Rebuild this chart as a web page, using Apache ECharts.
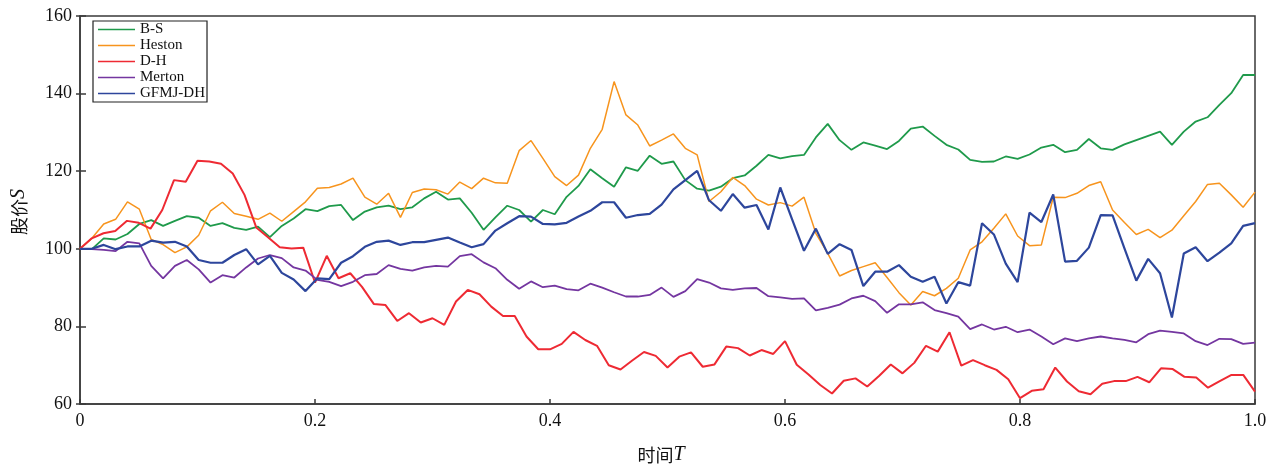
<!DOCTYPE html>
<html>
<head>
<meta charset="utf-8">
<script src="https://cdn.jsdelivr.net/npm/echarts@6/dist/echarts.min.js"></script>
<style>
  html, body { margin: 0; padding: 0; background: #fff; }
  #chart { width: 1278px; height: 469px; }
</style>
</head>
<body>
<div id="chart"></div>
<script>
// Simulated stock price paths S over time T for five models.
const seriesNames = ['B-S', 'Heston', 'D-H', 'Merton', 'GFMJ-DH'];
const xTickLabels = ['0', '0.2', '0.4', '0.6', '0.8', '1.0'];
const yTickLabels = ['60', '80', '100', '120', '140', '160'];

// B-S path (100 time points on [0, 1])
const bsValues = [
  100, 99.9, 102.7, 102.4, 103.8, 106.4, 107.4, 105.9, 107.2, 108.4,
  108.0, 105.9, 106.6, 105.4, 104.9, 105.7, 103.0, 105.9, 107.8, 110.2,
  109.7, 111.0, 111.3, 107.4, 109.6, 110.7, 111.1, 110.2, 110.7, 113.0,
  114.7, 112.7, 113.0, 109.3, 104.9, 108.1, 111.1, 110.0, 107.0, 110.0,
  108.9, 113.4, 116.2, 120.5, 118.2, 116.0, 121.0, 120.1, 124.0, 121.9,
  122.5, 117.7, 115.5, 115.0, 116.0, 118.2, 118.9, 121.4, 124.2, 123.3,
  123.9, 124.2, 128.7, 132.2, 128.0, 125.5, 127.4, 126.6, 125.7, 127.8,
  131.0, 131.5, 129.1, 126.8, 125.6, 122.9, 122.4, 122.5, 123.8, 123.2,
  124.3, 126.1, 126.8, 124.9, 125.5, 128.3, 125.9, 125.5, 126.9, 128.0,
  129.1, 130.2, 126.8, 130.2, 132.8, 133.9, 137.1, 140.1, 144.8, 144.8
];

// Heston path (100 time points)
const hestonValues = [
  100, 102.7, 106.4, 107.6, 112.1, 110.2, 102.4, 101.1, 99.0, 100.5,
  103.5, 109.8, 112.0, 109.1, 108.4, 107.6, 109.2, 107.1, 109.6, 112.1,
  115.6, 115.8, 116.7, 118.2, 113.3, 111.5, 114.3, 108.1, 114.5, 115.4,
  115.2, 114.1, 117.2, 115.5, 118.2, 117.0, 116.9, 125.3, 127.9, 123.3,
  118.6, 116.3, 119.0, 125.9, 130.8, 143.1, 134.5, 131.9, 126.5, 128.0,
  129.6, 125.9, 124.2, 112.2, 114.7, 118.4, 116.3, 112.8, 111.3, 111.9,
  111.0, 113.3, 104.0, 98.8, 93.0, 94.4, 95.4, 96.4, 92.6, 88.7,
  85.5, 89.0, 87.9, 89.8, 92.4, 99.7, 101.8, 105.3, 109.0, 103.3,
  100.8, 101.0, 113.3, 113.2, 114.3, 116.3, 117.3, 110.0, 106.8, 103.7,
  105.0, 102.9, 104.8, 108.5, 112.2, 116.6, 116.9, 113.9, 110.7, 114.6
];

// D-H path (101 time points, step 0.01)
const dhValues = [
  100, 102.7, 104.0, 104.6, 107.2, 106.7, 105.2, 110.0, 117.7, 117.3,
  122.7, 122.5, 121.9, 119.4, 113.9, 105.5, 103.0, 100.4, 100.1, 100.3,
  91.3, 98.2, 92.4, 93.7, 90.2, 85.8, 85.5, 81.4, 83.4, 81.0,
  82.1, 80.4, 86.4, 89.4, 88.3, 85.1, 82.7, 82.7, 77.4, 74.1,
  74.1, 75.5, 78.6, 76.5, 75.0, 70.0, 68.9, 71.2, 73.4, 72.4,
  69.4, 72.2, 73.3, 69.6, 70.2, 74.8, 74.4, 72.5, 73.9, 72.9,
  76.2, 70.1, 67.6, 64.9, 62.7, 66.0, 66.6, 64.5, 67.2, 70.2,
  67.9, 70.6, 75.0, 73.5, 78.5, 69.9, 71.3, 70.0, 68.8, 66.4,
  61.5, 63.4, 63.8, 69.4, 65.8, 63.3, 62.5, 65.2, 65.9, 65.9,
  67.0, 65.6, 69.2, 69.0, 67.0, 66.8, 64.2, 65.9, 67.5, 67.5,
  63.2
];

// Merton path (100 time points)
const mertonValues = [
  100, 99.9, 99.7, 99.4, 101.8, 101.4, 95.6, 92.4, 95.6, 97.1,
  94.7, 91.3, 93.2, 92.6, 95.2, 97.5, 98.4, 97.6, 95.2, 94.4,
  92.0, 91.5, 90.4, 91.5, 93.2, 93.5, 95.8, 94.8, 94.4, 95.2,
  95.6, 95.4, 98.1, 98.6, 96.5, 95.0, 92.0, 89.7, 91.6, 90.1,
  90.5, 89.6, 89.3, 91.0, 90.0, 88.8, 87.7, 87.7, 88.1, 90.0,
  87.6, 89.1, 92.2, 91.3, 89.8, 89.4, 89.8, 89.9, 87.8, 87.5,
  87.1, 87.2, 84.1, 84.8, 85.6, 87.2, 87.9, 86.5, 83.5, 85.7,
  85.7, 86.2, 84.2, 83.4, 82.5, 79.3, 80.5, 79.2, 79.9, 78.5,
  79.2, 77.4, 75.4, 76.9, 76.2, 76.9, 77.4, 76.9, 76.5, 75.9,
  78.0, 78.9, 78.6, 78.2, 76.2, 75.2, 76.8, 76.7, 75.5, 75.8
];

// GFMJ-DH path (100 time points)
const gfmjValues = [
  100, 100, 101.0, 99.9, 100.6, 100.6, 102.1, 101.6, 101.8, 100.6,
  97.1, 96.4, 96.4, 98.4, 99.9, 96.0, 98.2, 93.8, 92.1, 89.1,
  92.4, 92.2, 96.4, 98.1, 100.5, 101.8, 102.1, 101.0, 101.7, 101.7,
  102.3, 102.9, 101.6, 100.4, 101.2, 104.7, 106.6, 108.4, 108.3, 106.4,
  106.3, 106.7, 108.3, 109.8, 112.0, 112.0, 108.0, 108.7, 109.0, 111.4,
  115.3, 117.7, 120.1, 112.5, 109.8, 114.1, 110.6, 111.3, 105.0, 115.8,
  107.6, 99.5, 105.2, 98.7, 101.2, 99.7, 90.4, 94.1, 94.1, 95.8,
  92.8, 91.5, 92.8, 85.9, 91.4, 90.5, 106.6, 103.7, 96.2, 91.4,
  109.3, 106.9, 114.0, 96.7, 96.9, 100.3, 108.7, 108.6, 100.1, 91.8,
  97.4, 93.7, 82.3, 98.8, 100.4, 96.8, 99.0, 101.4, 105.9, 106.6
];

const seriesValues = [bsValues, hestonValues, dhValues, mertonValues, gfmjValues];
const seriesColors = ['#1f9a4b', '#f7941d', '#ee2a33', '#7436a0', '#2d469c'];
const seriesWidths = [1.8, 1.5, 2.0, 1.8, 2.2];

// Each path is sampled evenly over [0, 1]; pair every value with its time stamp.
function withTime(values) {
  const n = values.length;
  return values.map((v, i) => [i / (n - 1), v]);
}

const serif = "'Liberation Serif', 'Times New Roman', serif";
const cjk = "'Noto Sans CJK SC', sans-serif";
const axisColor = '#3a3a3a';

const chart = echarts.init(document.getElementById('chart'), null, { renderer: 'canvas' });

const option = {
  backgroundColor: '#fff',
  animation: false,
  grid: {
    left: 80, top: 16, width: 1175, height: 388,
    show: true, borderColor: axisColor, borderWidth: 1.5,
    backgroundColor: 'transparent'
  },
  legend: {
    orient: 'vertical',
    left: 93, top: 21,
    padding: [1, 2, 1, 5],
    itemGap: 1,
    icon: 'rect',
    itemWidth: 37,
    itemHeight: 1.6,
    borderColor: '#222',
    borderWidth: 1.2,
    backgroundColor: '#fff',
    textStyle: { fontFamily: serif, fontSize: 15, color: '#111', lineHeight: 14, padding: [0, 0, 0, 0] },
    data: seriesNames
  },
  xAxis: {
    type: 'value',
    min: 0, max: 1, interval: 0.2,
    axisLine: { show: true, lineStyle: { color: axisColor, width: 1.5 } },
    axisTick: { show: true, inside: true, length: 5, lineStyle: { color: axisColor, width: 1.5 } },
    axisLabel: {
      margin: 8,
      fontFamily: serif, fontSize: 18, color: '#111',
      formatter: (v) => xTickLabels[Math.round(v / 0.2)]
    },
    splitLine: { show: false }
  },
  yAxis: [
    {
      type: 'value',
      min: 60, max: 160, interval: 20,
      axisLine: { show: true, lineStyle: { color: axisColor, width: 1.5 } },
      axisTick: { show: true, inside: true, length: 6, lineStyle: { color: axisColor, width: 1.5 } },
      axisLabel: {
        margin: 8,
        fontFamily: serif, fontSize: 18, color: '#111',
        formatter: (v) => yTickLabels[Math.round((v - 60) / 20)]
      },
      splitLine: { show: false }
    },
    {
      type: 'value',
      position: 'left',
      min: 60, max: 160, interval: 20,
      axisLine: { show: false },
      axisTick: { show: true, inside: false, length: 4, lineStyle: { color: axisColor, width: 1.5 } },
      axisLabel: { show: false },
      splitLine: { show: false }
    }
  ],
  graphic: [
    {
      type: 'text',
      x: 661, y: 455,
      style: {
        text: '{c|时间}{i|T}',
        align: 'center', verticalAlign: 'middle',
        rich: {
          c: { fontFamily: cjk, fontSize: 18, fill: '#111' },
          i: { fontFamily: serif, fontStyle: 'italic', fontSize: 20, fill: '#111' }
        }
      }
    },
    {
      type: 'text',
      x: 19, y: 212,
      rotation: Math.PI / 2,
      style: {
        text: '{c|股价}{i|S}',
        align: 'center', verticalAlign: 'middle',
        rich: {
          c: { fontFamily: cjk, fontSize: 18, fill: '#111' },
          i: { fontFamily: serif, fontStyle: 'italic', fontSize: 20, fill: '#111' }
        }
      }
    }
  ],
  series: seriesNames.map((name, k) => ({
    name,
    type: 'line',
    data: withTime(seriesValues[k]),
    symbol: 'none',
    showSymbol: false,
    lineStyle: { color: seriesColors[k], width: seriesWidths[k] },
    itemStyle: { color: seriesColors[k] },
    emphasis: { disabled: true },
    z: 2 + k
  }))
};

chart.setOption(option);
</script>
</body>
</html>
